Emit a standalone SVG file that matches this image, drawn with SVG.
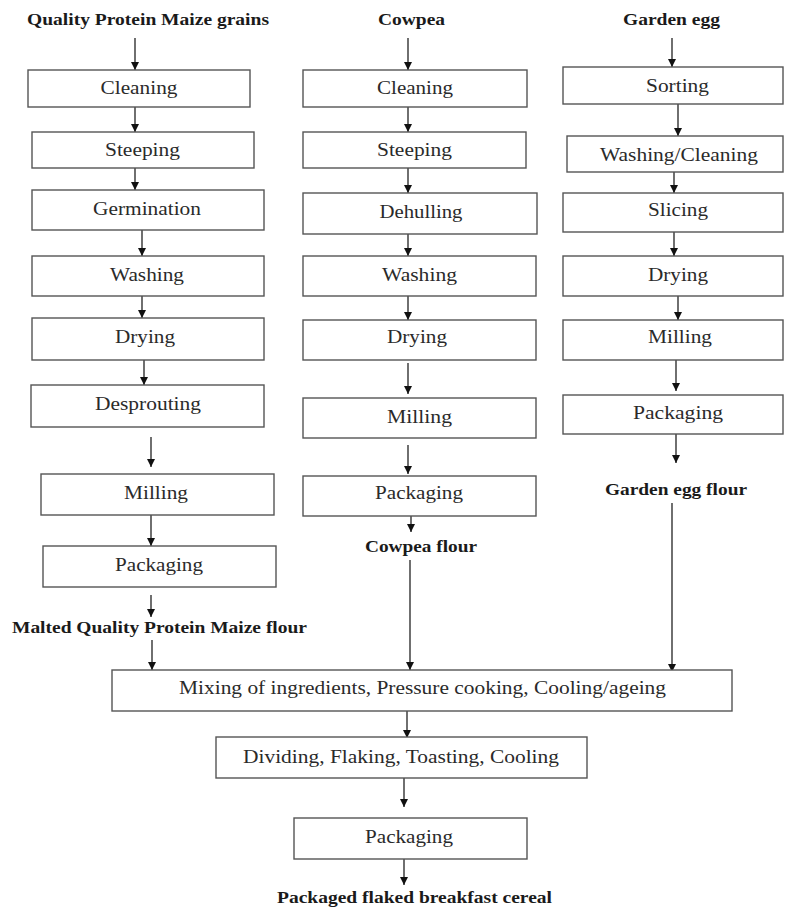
<svg xmlns="http://www.w3.org/2000/svg" width="785" height="909" viewBox="0 0 785 909">
<defs>
<style>
.box rect{fill:#fff;stroke:#555;stroke-width:1.4}
.box text,.lbl{font-family:"Liberation Serif","Times New Roman",serif;text-anchor:middle;fill:#2a2a2a}
.box text{font-size:18.5px}
.lbl{font-size:16px;font-weight:bold;fill:#1a1a1a}
.conn line{stroke:#222;stroke-width:1.3;marker-end:url(#ah)}
</style>
<marker id="ah" markerUnits="userSpaceOnUse" markerWidth="8" markerHeight="9" refX="8" refY="4" orient="auto" viewBox="0 0 8 8">
<path d="M0,0 L8,4 L0,8 z" fill="#111"/>
</marker>
</defs>
<rect width="785" height="909" fill="#fff"/>

<g id="labels">
<text id="lbl-qpm" class="lbl" x="148" y="25" textLength="242" lengthAdjust="spacingAndGlyphs">Quality Protein Maize grains</text>
<text id="lbl-cowpea" class="lbl" x="411.5" y="25" textLength="67" lengthAdjust="spacingAndGlyphs">Cowpea</text>
<text id="lbl-garden" class="lbl" x="671.5" y="25" textLength="97" lengthAdjust="spacingAndGlyphs">Garden egg</text>
<text id="lbl-mqpm-flour" class="lbl" x="159.5" y="633" textLength="295" lengthAdjust="spacingAndGlyphs">Malted Quality Protein Maize flour</text>
<text id="lbl-cowpea-flour" class="lbl" x="421" y="552" textLength="112" lengthAdjust="spacingAndGlyphs">Cowpea flour</text>
<text id="lbl-garden-flour" class="lbl" x="676" y="495" textLength="142" lengthAdjust="spacingAndGlyphs">Garden egg flour</text>
<text id="lbl-final" class="lbl" x="414.5" y="903" textLength="275" lengthAdjust="spacingAndGlyphs">Packaged flaked breakfast cereal</text>
</g>

<g class="conn" id="connectors">
<line x1="135" y1="38" x2="135" y2="70"/>
<line x1="135" y1="107" x2="135" y2="132"/>
<line x1="135" y1="168" x2="135" y2="190"/>
<line x1="142" y1="230" x2="142" y2="256"/>
<line x1="142" y1="296" x2="142" y2="318"/>
<line x1="144" y1="360" x2="144" y2="385"/>
<line x1="151" y1="437" x2="151" y2="467"/>
<line x1="151" y1="515" x2="151" y2="546"/>
<line x1="151" y1="595" x2="151" y2="617"/>
<line x1="152" y1="640" x2="152" y2="670"/>

<line x1="408" y1="38" x2="408" y2="70"/>
<line x1="408" y1="107" x2="408" y2="132"/>
<line x1="408" y1="168" x2="408" y2="193"/>
<line x1="408" y1="234" x2="408" y2="256"/>
<line x1="408" y1="296" x2="408" y2="320"/>
<line x1="408" y1="363" x2="408" y2="394"/>
<line x1="408" y1="445" x2="408" y2="474"/>
<line x1="411" y1="516" x2="411" y2="532"/>
<line x1="410" y1="560" x2="410" y2="670"/>

<line x1="672" y1="38" x2="672" y2="67"/>
<line x1="678" y1="104" x2="678" y2="136"/>
<line x1="674" y1="172" x2="674" y2="193"/>
<line x1="674" y1="232" x2="674" y2="256"/>
<line x1="678" y1="296" x2="678" y2="320"/>
<line x1="676" y1="360" x2="676" y2="391"/>
<line x1="676" y1="434" x2="676" y2="463"/>
<line x1="672" y1="503" x2="672" y2="672"/>

<line x1="407" y1="711" x2="407" y2="738"/>
<line x1="404" y1="778" x2="404" y2="807"/>
<line x1="404" y1="859" x2="404" y2="885"/>
</g>

<g class="box" id="qpm-cleaning"><rect x="28" y="70" width="222" height="37"/><text x="139" y="94" textLength="77" lengthAdjust="spacingAndGlyphs">Cleaning</text></g>
<g class="box" id="qpm-steeping"><rect x="32" y="132" width="222" height="36"/><text x="142.5" y="156" textLength="75" lengthAdjust="spacingAndGlyphs">Steeping</text></g>
<g class="box" id="qpm-germination"><rect x="32" y="190" width="232" height="40"/><text x="147" y="215" textLength="108" lengthAdjust="spacingAndGlyphs">Germination</text></g>
<g class="box" id="qpm-washing"><rect x="32" y="256" width="232" height="40"/><text x="147" y="281" textLength="74" lengthAdjust="spacingAndGlyphs">Washing</text></g>
<g class="box" id="qpm-drying"><rect x="32" y="318" width="232" height="42"/><text x="145" y="343" textLength="60" lengthAdjust="spacingAndGlyphs">Drying</text></g>
<g class="box" id="qpm-desprouting"><rect x="31" y="385" width="233" height="42"/><text x="148" y="410" textLength="106" lengthAdjust="spacingAndGlyphs">Desprouting</text></g>
<g class="box" id="qpm-milling"><rect x="41" y="474" width="233" height="41"/><text x="156" y="499" textLength="64" lengthAdjust="spacingAndGlyphs">Milling</text></g>
<g class="box" id="qpm-packaging"><rect x="43" y="546" width="233" height="41"/><text x="159" y="571" textLength="88" lengthAdjust="spacingAndGlyphs">Packaging</text></g>

<g class="box" id="cp-cleaning"><rect x="303" y="70" width="224" height="37"/><text x="415" y="94" textLength="76" lengthAdjust="spacingAndGlyphs">Cleaning</text></g>
<g class="box" id="cp-steeping"><rect x="303" y="132" width="223" height="36"/><text x="414.5" y="156" textLength="75" lengthAdjust="spacingAndGlyphs">Steeping</text></g>
<g class="box" id="cp-dehulling"><rect x="303" y="193" width="234" height="41"/><text x="421" y="218" textLength="83" lengthAdjust="spacingAndGlyphs">Dehulling</text></g>
<g class="box" id="cp-washing"><rect x="303" y="256" width="233" height="40"/><text x="419.5" y="281" textLength="75" lengthAdjust="spacingAndGlyphs">Washing</text></g>
<g class="box" id="cp-drying"><rect x="303" y="320" width="233" height="40"/><text x="417" y="343" textLength="60" lengthAdjust="spacingAndGlyphs">Drying</text></g>
<g class="box" id="cp-milling"><rect x="303" y="398" width="233" height="40"/><text x="419.5" y="423" textLength="65" lengthAdjust="spacingAndGlyphs">Milling</text></g>
<g class="box" id="cp-packaging"><rect x="303" y="476" width="233" height="40"/><text x="419" y="499" textLength="88" lengthAdjust="spacingAndGlyphs">Packaging</text></g>

<g class="box" id="ge-sorting"><rect x="563" y="67" width="220" height="37"/><text x="677.5" y="92" textLength="63" lengthAdjust="spacingAndGlyphs">Sorting</text></g>
<g class="box" id="ge-washing"><rect x="567" y="136" width="216" height="36"/><text x="679" y="161" textLength="158" lengthAdjust="spacingAndGlyphs">Washing/Cleaning</text></g>
<g class="box" id="ge-slicing"><rect x="563" y="193" width="220" height="39"/><text x="678" y="216" textLength="60" lengthAdjust="spacingAndGlyphs">Slicing</text></g>
<g class="box" id="ge-drying"><rect x="563" y="256" width="220" height="40"/><text x="678" y="281" textLength="60" lengthAdjust="spacingAndGlyphs">Drying</text></g>
<g class="box" id="ge-milling"><rect x="563" y="320" width="220" height="40"/><text x="680" y="343" textLength="64" lengthAdjust="spacingAndGlyphs">Milling</text></g>
<g class="box" id="ge-packaging"><rect x="563" y="395" width="220" height="39"/><text x="678" y="419" textLength="90" lengthAdjust="spacingAndGlyphs">Packaging</text></g>

<g class="box" id="mixing"><rect x="112" y="670" width="620" height="41"/><text x="422.5" y="694" textLength="487" lengthAdjust="spacingAndGlyphs">Mixing of ingredients, Pressure cooking, Cooling/ageing</text></g>
<g class="box" id="dividing"><rect x="216" y="737" width="371" height="41"/><text x="401" y="763" textLength="316" lengthAdjust="spacingAndGlyphs">Dividing, Flaking, Toasting, Cooling</text></g>
<g class="box" id="final-packaging"><rect x="294" y="818" width="233" height="41"/><text x="409" y="843" textLength="88" lengthAdjust="spacingAndGlyphs">Packaging</text></g>
</svg>
